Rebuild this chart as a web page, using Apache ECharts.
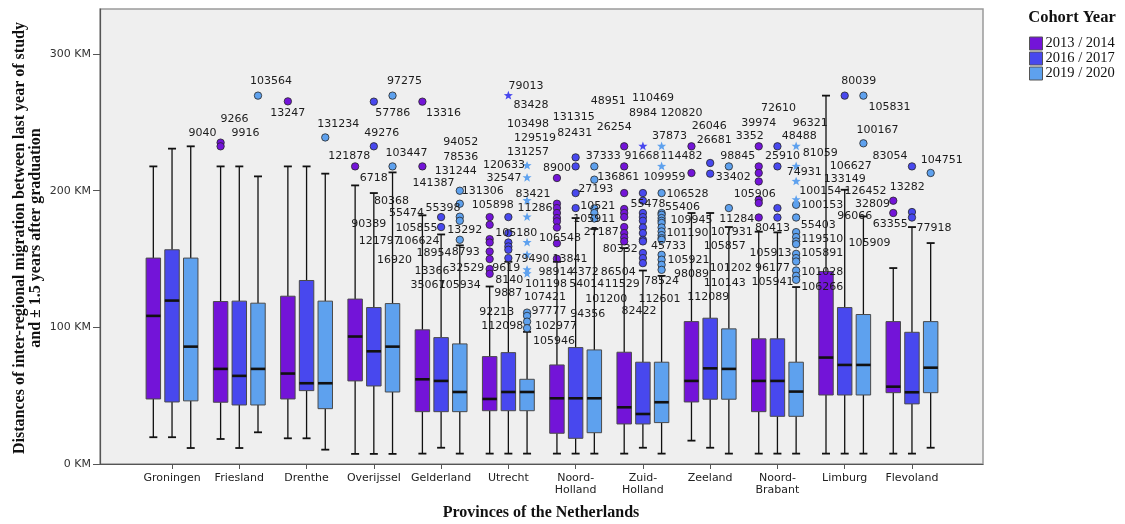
<!DOCTYPE html>
<html>
<head>
<meta charset="utf-8">
<script src="https://cdn.jsdelivr.net/npm/echarts@6/dist/echarts.min.js"></script>
<style>
  html, body { margin: 0; padding: 0; background: #ffffff; }
  #chart { width: 1125px; height: 524px; }
</style>
</head>
<body>
<div id="chart"></div>
<script>
const provinces = ['Groningen', 'Friesland', 'Drenthe', 'Overijssel', 'Gelderland', 'Utrecht',
  'Noord-Holland', 'Zuid-Holland', 'Zeeland', 'Noord-Brabant', 'Limburg', 'Flevoland']
const cohorts = ['2013 / 2014', '2016 / 2017', '2019 / 2020']
const yTicks = [0, 100, 200, 300]

// [lower whisker, Q1, median, Q3, upper whisker] in km, one row per province
const box2013 = [
  [19.6, 47.6, 108.4, 150.7, 217.8],
  [18.3, 45.2, 69.6, 118.9, 217.8],
  [18.8, 47.6, 66.2, 122.8, 217.8],
  [7.4, 60.8, 93.3, 120.7, 203.9],
  [7.6, 38.3, 62.0, 98.2, 182.0],
  [7.6, 39.0, 47.6, 78.6, 129.9],
  [7.6, 22.5, 48.1, 72.5, 148.0],
  [7.6, 29.3, 41.5, 81.8, 158.0],
  [17.1, 45.4, 60.8, 104.2, 183.7],
  [7.6, 38.3, 60.8, 91.6, 170.0],
  [7.6, 50.5, 77.9, 140.9, 269.6],
  [7.6, 52.2, 56.6, 104.2, 143.4],
]
const box2016 = [
  [19.6, 45.4, 119.6, 156.8, 230.8],
  [11.7, 43.2, 64.5, 119.2, 217.8],
  [18.8, 53.7, 59.1, 134.3, 217.8],
  [7.4, 57.1, 82.5, 114.5, 198.3],
  [11.9, 38.3, 60.8, 92.5, 168.0],
  [7.6, 39.0, 52.7, 81.5, 148.0],
  [7.6, 18.8, 48.1, 85.2, 180.0],
  [11.9, 29.3, 36.6, 74.5, 141.6],
  [11.9, 47.4, 70.0, 106.7, 183.7],
  [7.6, 34.9, 60.8, 91.6, 169.5],
  [7.6, 50.5, 72.5, 114.5, 200.7],
  [7.6, 44.0, 52.5, 96.4, 173.4],
]
const box2019 = [
  [11.7, 46.2, 85.9, 150.7, 232.5],
  [23.2, 43.2, 69.6, 117.7, 210.5],
  [10.5, 40.5, 59.1, 119.2, 212.5],
  [7.4, 52.7, 85.9, 117.4, 213.4],
  [7.6, 38.3, 52.7, 87.9, 160.0],
  [7.6, 39.0, 52.7, 62.0, 96.7],
  [7.6, 22.9, 48.1, 83.5, 172.0],
  [7.6, 30.3, 45.2, 74.5, 137.7],
  [7.6, 47.4, 69.6, 98.9, 173.4],
  [7.6, 34.9, 53.0, 74.5, 129.5],
  [7.6, 50.5, 72.5, 109.4, 181.2],
  [11.9, 52.2, 70.5, 104.2, 161.7],
]

// outliers (circles), [province, km]
const dots2013 = [
  ['Friesland', 235.2], ['Friesland', 232.5], ['Drenthe', 265.4], ['Overijssel', 217.8],
  ['Gelderland', 265.2], ['Gelderland', 217.8],
  ['Utrecht', 180.7], ['Utrecht', 175.1], ['Utrecht', 164.6], ['Utrecht', 162.1], ['Utrecht', 155.5],
  ['Utrecht', 150.0], ['Utrecht', 142.7], ['Utrecht', 139.2],
  ['Noord-Holland', 209.3], ['Noord-Holland', 190.5], ['Noord-Holland', 187.3], ['Noord-Holland', 183.7],
  ['Noord-Holland', 180.0], ['Noord-Holland', 177.6], ['Noord-Holland', 173.1], ['Noord-Holland', 161.5],
  ['Noord-Holland', 150.2],
  ['Zuid-Holland', 232.5], ['Zuid-Holland', 217.8], ['Zuid-Holland', 198.3], ['Zuid-Holland', 186.6],
  ['Zuid-Holland', 183.7], ['Zuid-Holland', 180.7], ['Zuid-Holland', 173.4], ['Zuid-Holland', 169.0],
  ['Zuid-Holland', 165.8], ['Zuid-Holland', 162.9],
  ['Zeeland', 232.5], ['Zeeland', 213.0],
  ['Noord-Brabant', 232.5], ['Noord-Brabant', 217.8], ['Noord-Brabant', 213.0], ['Noord-Brabant', 206.8],
  ['Noord-Brabant', 193.4], ['Noord-Brabant', 191.0], ['Noord-Brabant', 180.4],
  ['Flevoland', 192.7], ['Flevoland', 183.7],
]
const dots2016 = [
  ['Overijssel', 265.2], ['Overijssel', 232.5], ['Gelderland', 180.7], ['Gelderland', 173.4],
  ['Utrecht', 180.7], ['Utrecht', 169.0], ['Utrecht', 162.1], ['Utrecht', 159.2], ['Utrecht', 156.8], ['Utrecht', 150.7],
  ['Noord-Holland', 224.4], ['Noord-Holland', 217.8], ['Noord-Holland', 198.3], ['Noord-Holland', 187.3],
  ['Zuid-Holland', 198.3], ['Zuid-Holland', 192.7], ['Zuid-Holland', 183.7], ['Zuid-Holland', 180.7],
  ['Zuid-Holland', 178.0], ['Zuid-Holland', 173.1], ['Zuid-Holland', 169.0], ['Zuid-Holland', 164.1],
  ['Zuid-Holland', 162.9], ['Zuid-Holland', 154.4], ['Zuid-Holland', 150.7], ['Zuid-Holland', 147.0],
  ['Zeeland', 220.3], ['Zeeland', 212.5],
  ['Noord-Brabant', 232.5], ['Noord-Brabant', 217.8], ['Noord-Brabant', 187.3], ['Noord-Brabant', 180.4],
  ['Limburg', 269.6],
  ['Flevoland', 217.8], ['Flevoland', 184.4], ['Flevoland', 180.4],
]
const dots2019 = [
  ['Friesland', 269.6], ['Drenthe', 239.0], ['Overijssel', 269.6], ['Overijssel', 217.8],
  ['Gelderland', 200.0], ['Gelderland', 190.5], ['Gelderland', 181.0], ['Gelderland', 178.0], ['Gelderland', 164.1],
  ['Utrecht', 110.8], ['Utrecht', 108.4], ['Utrecht', 104.2], ['Utrecht', 99.4],
  ['Noord-Holland', 217.8], ['Noord-Holland', 208.1], ['Noord-Holland', 187.0], ['Noord-Holland', 183.7],
  ['Noord-Holland', 179.7],
  ['Zuid-Holland', 198.3], ['Zuid-Holland', 183.7], ['Zuid-Holland', 182.4], ['Zuid-Holland', 180.0],
  ['Zuid-Holland', 178.0], ['Zuid-Holland', 176.4], ['Zuid-Holland', 173.1], ['Zuid-Holland', 170.2],
  ['Zuid-Holland', 167.5], ['Zuid-Holland', 165.3], ['Zuid-Holland', 164.1], ['Zuid-Holland', 153.1],
  ['Zuid-Holland', 149.5], ['Zuid-Holland', 145.8], ['Zuid-Holland', 142.1],
  ['Zeeland', 217.8], ['Zeeland', 187.3],
  ['Noord-Brabant', 189.7], ['Noord-Brabant', 180.4], ['Noord-Brabant', 169.7], ['Noord-Brabant', 166.1],
  ['Noord-Brabant', 162.9], ['Noord-Brabant', 160.9], ['Noord-Brabant', 153.8], ['Noord-Brabant', 150.7],
  ['Noord-Brabant', 148.2], ['Noord-Brabant', 141.6], ['Noord-Brabant', 137.7], ['Noord-Brabant', 134.8],
  ['Limburg', 269.6], ['Limburg', 234.7],
  ['Flevoland', 213.0],
]

// extreme values (stars), [province, km]
const stars2016 = [['Utrecht', 269.6], ['Zuid-Holland', 232.5]]
const stars2019 = [
  ['Utrecht', 218.3], ['Utrecht', 209.5], ['Utrecht', 192.7], ['Utrecht', 180.7], ['Utrecht', 162.1],
  ['Utrecht', 153.1], ['Utrecht', 142.1], ['Utrecht', 139.2],
  ['Zuid-Holland', 232.5], ['Zuid-Holland', 217.8],
  ['Noord-Brabant', 232.5], ['Noord-Brabant', 217.8], ['Noord-Brabant', 206.8], ['Noord-Brabant', 193.4],
]

// case labels, [province, km, case id]
const labels2013 = [
  ['Friesland', 252.7, '9266'], ['Friesland', 241.8, '9040'], ['Friesland', 241.8, '9916'],
  ['Drenthe', 257.1, '13247'], ['Overijssel', 225.6, '121878'],
  ['Gelderland', 257.1, '13316'], ['Gelderland', 205.9, '141387'], ['Gelderland', 183.9, '55474'],
  ['Gelderland', 172.9, '105855'], ['Gelderland', 162.9, '106624'],
  ['Utrecht', 189.7, '105898'], ['Utrecht', 111.1, '92213'],
  ['Noord-Holland', 216.8, '8900'], ['Noord-Holland', 165.6, '106548'], ['Noord-Holland', 150.2, '13841'],
  ['Noord-Holland', 140.4, '98914'], ['Noord-Holland', 131.9, '101198'],
  ['Zuid-Holland', 157.5, '80332'], ['Zuid-Holland', 140.4, '86504'], ['Zuid-Holland', 131.9, '11529'],
  ['Zeeland', 178.8, '109945'], ['Zeeland', 139.2, '98089'],
  ['Noord-Brabant', 249.8, '39974'], ['Noord-Brabant', 239.6, '3352'], ['Noord-Brabant', 197.6, '105906'],
  ['Flevoland', 202.4, '13282'], ['Flevoland', 175.8, '63355'],
]
const labels2016 = [
  ['Overijssel', 209.5, '6718'], ['Overijssel', 241.8, '49276'], ['Overijssel', 257.1, '57786'],
  ['Overijssel', 175.6, '90389'], ['Overijssel', 162.9, '121797'],
  ['Gelderland', 187.5, '55398'], ['Gelderland', 154.6, '18954'], ['Gelderland', 140.9, '13366'],
  ['Gelderland', 131.1, '35067'],
  ['Utrecht', 169.2, '105180'], ['Utrecht', 143.4, '9619'], ['Utrecht', 134.8, '8140'], ['Utrecht', 125.1, '9887'],
  ['Utrecht', 100.6, '112098'],
  ['Noord-Holland', 253.5, '131315'], ['Noord-Holland', 242.5, '82431'], ['Noord-Holland', 201.2, '27193'],
  ['Noord-Holland', 188.5, '10521'], ['Noord-Holland', 140.4, '4372'], ['Noord-Holland', 131.9, '54014'],
  ['Noord-Holland', 109.9, '94356'],
  ['Zuid-Holland', 267.4, '110469'], ['Zuid-Holland', 257.1, '8984'], ['Zuid-Holland', 225.6, '91668'],
  ['Zuid-Holland', 190.5, '55478'], ['Zuid-Holland', 111.6, '82422'],
  ['Zeeland', 247.1, '26046'], ['Zeeland', 236.8, '26681'], ['Zeeland', 210.0, '33402'], ['Zeeland', 121.8, '112089'],
  ['Noord-Brabant', 260.3, '72610'], ['Noord-Brabant', 225.6, '25910'], ['Noord-Brabant', 172.7, '80413'],
  ['Noord-Brabant', 154.4, '105913'], ['Noord-Brabant', 143.4, '96177'], ['Noord-Brabant', 133.1, '105941'],
  ['Limburg', 279.9, '80039'], ['Limburg', 218.3, '106627'], ['Limburg', 208.8, '133149'], ['Limburg', 181.7, '96066'],
  ['Flevoland', 225.6, '83054'], ['Flevoland', 172.7, '77918'],
]
const labels2019 = [
  ['Friesland', 279.9, '103564'], ['Drenthe', 248.4, '131234'],
  ['Overijssel', 279.9, '97275'], ['Overijssel', 227.8, '103447'], ['Overijssel', 192.7, '80368'],
  ['Overijssel', 148.9, '16920'],
  ['Gelderland', 235.2, '94052'], ['Gelderland', 224.9, '78536'], ['Gelderland', 214.7, '131244'],
  ['Gelderland', 200.0, '131306'], ['Gelderland', 171.4, '13292'], ['Gelderland', 155.3, '8793'],
  ['Gelderland', 143.6, '32529'], ['Gelderland', 131.1, '105934'],
  ['Utrecht', 276.9, '79013'], ['Utrecht', 262.3, '83428'], ['Utrecht', 248.4, '103498'], ['Utrecht', 238.8, '129519'],
  ['Utrecht', 228.6, '131257'], ['Utrecht', 219.0, '120633'], ['Utrecht', 209.5, '32547'], ['Utrecht', 197.8, '83421'],
  ['Utrecht', 187.0, '11286'], ['Utrecht', 150.2, '79490'], ['Utrecht', 121.8, '107421'], ['Utrecht', 111.6, '97777'],
  ['Utrecht', 100.6, '102977'], ['Utrecht', 90.1, '105946'],
  ['Noord-Holland', 265.2, '48951'], ['Noord-Holland', 246.9, '26254'], ['Noord-Holland', 225.6, '37333'],
  ['Noord-Holland', 210.0, '136861'], ['Noord-Holland', 179.3, '105911'], ['Noord-Holland', 169.5, '27187'],
  ['Noord-Holland', 120.9, '101200'],
  ['Zuid-Holland', 257.1, '120820'], ['Zuid-Holland', 240.3, '37873'], ['Zuid-Holland', 225.6, '114482'],
  ['Zuid-Holland', 210.0, '109959'], ['Zuid-Holland', 197.8, '106528'], ['Zuid-Holland', 188.1, '55406'],
  ['Zuid-Holland', 169.0, '101190'], ['Zuid-Holland', 159.2, '45733'], ['Zuid-Holland', 149.5, '105921'],
  ['Zuid-Holland', 133.6, '78524'], ['Zuid-Holland', 120.9, '112601'],
  ['Zeeland', 225.6, '98845'], ['Zeeland', 179.5, '11284'], ['Zeeland', 170.0, '107931'], ['Zeeland', 159.2, '105857'],
  ['Zeeland', 143.4, '101202'], ['Zeeland', 132.4, '110143'],
  ['Noord-Brabant', 249.8, '96321'], ['Noord-Brabant', 239.6, '48488'], ['Noord-Brabant', 227.8, '81059'],
  ['Noord-Brabant', 213.9, '74931'], ['Noord-Brabant', 200.0, '100154'], ['Noord-Brabant', 189.7, '100153'],
  ['Noord-Brabant', 175.1, '55403'], ['Noord-Brabant', 164.8, '119510'], ['Noord-Brabant', 154.4, '105891'],
  ['Noord-Brabant', 140.4, '101028'], ['Noord-Brabant', 129.5, '106266'],
  ['Limburg', 261.5, '105831'], ['Limburg', 244.0, '100167'], ['Limburg', 200.0, '126452'],
  ['Limburg', 190.3, '32809'], ['Limburg', 161.7, '105909'],
  ['Flevoland', 222.7, '104751'],
]

// horizontal nudge of each case label (px), as SPSS placed them
const labelShift = {
  '103564': 13, '9266': 14, '9040': -18, '9916': 25, '13247': 0, '131234': 13, '121878': -6, '6718': 0,
  '49276': 8, '57786': 19, '97275': 12, '103447': 14, '80368': -1, '90389': -5, '121797': 6, '16920': 2,
  '13316': 21, '141387': 11, '55474': -16, '105855': -6, '106624': -4, '55398': 2, '18954': -7, '13366': -9,
  '35067': -13, '94052': 1, '78536': 1, '131244': -4, '131306': 23, '13292': 5, '8793': 6, '32529': 7, '105934': 0,
  '105898': 3, '92213': 7, '105180': 8, '9619': -2, '8140': 1, '9887': 0, '112098': -6, '79013': -1, '83428': 4,
  '103498': 1, '129519': 8, '131257': 1, '120633': -23, '32547': -23, '83421': 6, '11286': 8, '79490': 5,
  '107421': 18, '97777': 22, '102977': 29, '105946': 27,
  '8900': 0, '106548': 3, '13841': 13, '98914': -1, '101198': -11, '131315': -2, '82431': -1, '27193': 20,
  '10521': 22, '4372': 9, '54014': 11, '94356': 12, '48951': 14, '26254': 20, '37333': 9, '136861': 24,
  '105911': 0, '27187': 7, '101200': 12,
  '80332': -4, '86504': -6, '11529': -2, '110469': 10, '8984': 0, '91668': -1, '55478': 5, '82422': -4,
  '120820': 20, '37873': 8, '114482': 20, '109959': 3, '106528': 26, '55406': 21, '101190': 26, '45733': 7,
  '105921': 27, '78524': 0, '112601': -2,
  '109945': 0, '98089': 0, '26046': -1, '26681': 4, '33402': 23, '112089': -2, '98845': 9, '11284': 8,
  '107931': 3, '105857': -4, '101202': 2, '110143': -4,
  '39974': 0, '3352': -9, '105906': -4, '72610': 1, '25910': 5, '80413': -5, '105913': -7, '96177': -5,
  '105941': -5, '96321': 14, '48488': 3, '81059': 24, '74931': 8, '100154': 24, '100153': 26, '55403': 22,
  '119510': 26, '105891': 26, '101028': 26, '106266': 26,
  '80039': 14, '105831': 26, '100167': 14, '106627': 6, '133149': 0, '96066': 10, '126452': 2, '32809': 9,
  '105909': 6, '13282': 14, '63355': -3, '83054': -22, '77918': 22, '104751': 11,
}

const colors = ['#7314d8', '#4848ee', '#5ea1ee']
const labelFont = '11px "DejaVu Sans"'
const STEP = 0.278 // distance between cohort boxes, share of band
const BOX = 0.215 // box width, share of band

function columnX(api, cat, k) {
  const band = api.size([1, 0])[0]
  return api.coord([cat, 0])[0] + (k - 1) * STEP * band
}

function boxRenderer(k) {
  return (params, api) => {
    const cat = api.value(0)
    const cx = columnX(api, cat, k)
    const w = BOX * api.size([1, 0])[0]
    const y = (dim) => api.coord([cat, api.value(dim)])[1]
    const lo = y(1), q1 = y(2), md = y(3), q3 = y(4), hi = y(5)
    const line = (x1, y1, x2, y2, lw) => ({
      type: 'line',
      shape: { x1, y1, x2, y2 },
      style: { stroke: '#111111', lineWidth: lw },
    })
    return {
      type: 'group',
      children: [
        line(cx, hi, cx, q3, 1.3),
        line(cx, q1, cx, lo, 1.3),
        line(cx - 4, hi, cx + 4, hi, 1.8),
        line(cx - 4, lo, cx + 4, lo, 1.8),
        {
          type: 'rect',
          shape: { x: cx - w / 2, y: q3, width: w, height: q1 - q3 },
          style: { fill: colors[k], stroke: '#4a4a4a', lineWidth: 1 },
        },
        line(cx - w / 2, md, cx + w / 2, md, 2.6),
      ],
    }
  }
}

function dotRenderer(k) {
  return (params, api) => {
    const cat = api.value(0)
    return {
      type: 'circle',
      shape: { cx: columnX(api, cat, k), cy: api.coord([cat, api.value(1)])[1], r: 3.7 },
      style: { fill: colors[k], stroke: '#262626', lineWidth: 0.8 },
    }
  }
}

function starRenderer(k) {
  return (params, api) => {
    const cat = api.value(0)
    const cx = columnX(api, cat, k)
    const cy = api.coord([cat, api.value(1)])[1]
    const points = []
    for (let i = 0; i < 10; i++) {
      const r = i % 2 === 0 ? 4.8 : 2
      const a = -Math.PI / 2 + (i * Math.PI) / 5
      points.push([cx + r * Math.cos(a), cy + r * Math.sin(a)])
    }
    return { type: 'polygon', shape: { points }, style: { fill: colors[k] } }
  }
}

function labelRenderer(k, list) {
  return (params, api) => {
    const cat = api.value(0)
    const id = list[params.dataIndex][2]
    return {
      type: 'text',
      x: columnX(api, cat, k) + (labelShift[id] || 0),
      y: api.coord([cat, api.value(1)])[1],
      style: {
        text: id,
        font: labelFont,
        fill: '#1c1c1c',
        textAlign: 'center',
        textVerticalAlign: 'middle',
      },
    }
  }
}

const idx = (name) => provinces.indexOf(name)
const boxes = [box2013, box2016, box2019]
const dots = [dots2013, dots2016, dots2019]
const stars = [null, stars2016, stars2019]
const labels = [labels2013, labels2016, labels2019]

const series = []
cohorts.forEach((name, k) => {
  series.push({
    type: 'custom',
    name,
    xAxisIndex: 1,
    yAxisIndex: 1,
    z: 2,
    itemStyle: { color: colors[k] },
    encode: { x: 0, y: [1, 2, 3, 4, 5] },
    data: boxes[k].map((row, i) => [i, ...row]),
    renderItem: boxRenderer(k),
  })
  series.push({
    type: 'custom',
    name,
    xAxisIndex: 1,
    yAxisIndex: 1,
    z: 3,
    itemStyle: { color: colors[k] },
    encode: { x: 0, y: 1 },
    data: dots[k].map(([p, v]) => [idx(p), v]),
    renderItem: dotRenderer(k),
  })
  if (stars[k]) {
    series.push({
      type: 'custom',
      name,
      xAxisIndex: 1,
      yAxisIndex: 1,
      z: 3,
      itemStyle: { color: colors[k] },
      encode: { x: 0, y: 1 },
      data: stars[k].map(([p, v]) => [idx(p), v]),
      renderItem: starRenderer(k),
    })
  }
  series.push({
    type: 'custom',
    name: 'case ' + name,
    xAxisIndex: 1,
    yAxisIndex: 1,
    z: 4,
    encode: { x: 0, y: 1 },
    data: labels[k].map(([p, v]) => [idx(p), v]),
    renderItem: labelRenderer(k, labels[k]),
  })
})

const chart = echarts.init(document.getElementById('chart'), null, { renderer: 'canvas' })
chart.setOption({
  animation: false,
  grid: [
    { left: 100, right: 142, top: 9, bottom: 60, show: true, backgroundColor: '#efefef', borderColor: '#9a9a9a', borderWidth: 1.5 },
    { left: 138.4, right: 179.4, top: 9, bottom: 60 },
  ],
  xAxis: [
    {
      gridIndex: 0,
      type: 'value',
      min: 0,
      max: 1,
      axisLine: { show: true, lineStyle: { color: '#555555', width: 1.2 } },
      axisTick: { show: false },
      axisLabel: { show: false },
      splitLine: { show: false },
    },
    {
      gridIndex: 1,
      type: 'category',
      data: provinces,
      axisLine: { show: false },
      axisTick: { show: true, alignWithLabel: true, length: 5, lineStyle: { color: '#555555' } },
      axisLabel: {
        interval: 0,
        margin: 8,
        formatter: (s) => s.replace('-', '-\n'),
        fontFamily: 'DejaVu Sans',
        fontSize: 11,
        lineHeight: 12,
        color: '#222222',
      },
      splitLine: { show: false },
    },
  ],
  yAxis: [
    {
      gridIndex: 0,
      type: 'value',
      min: 0,
      max: 333,
      axisLine: { show: true, lineStyle: { color: '#555555', width: 1.2 } },
      axisTick: { show: true, customValues: yTicks, length: 7, lineStyle: { color: '#555555' } },
      axisLabel: {
        customValues: yTicks,
        formatter: '{value} KM',
        margin: 9,
        fontFamily: 'DejaVu Sans',
        fontSize: 11,
        color: '#333333',
      },
      splitLine: { show: false },
    },
    { gridIndex: 1, type: 'value', min: 0, max: 333, show: false },
  ],
  legend: {
    orient: 'vertical',
    left: 1029,
    top: 36,
    padding: 0,
    itemWidth: 13,
    itemHeight: 13,
    itemGap: 0,
    icon: 'rect',
    selectedMode: false,
    data: cohorts.map((name, k) => ({
      name,
      itemStyle: { color: colors[k], borderColor: '#555555', borderWidth: 1 },
    })),
    textStyle: { fontFamily: 'Liberation Serif', fontSize: 14.5, color: '#111111', lineHeight: 13, padding: [0, 0, 0, -2] },
  },
  graphic: [
    {
      type: 'text',
      x: 1072,
      y: 18,
      style: { text: 'Cohort Year', font: 'bold 16.5px "Liberation Serif"', fill: '#111111', textAlign: 'center', textVerticalAlign: 'middle' },
    },
    {
      type: 'text',
      x: 20,
      y: 238,
      rotation: Math.PI / 2,
      style: {
        text: 'Distances of inter-regional migration between last year of study',
        font: 'bold 16px "Liberation Serif"',
        fill: '#111111',
        textAlign: 'center',
        textVerticalAlign: 'middle',
      },
    },
    {
      type: 'text',
      x: 36,
      y: 238,
      rotation: Math.PI / 2,
      style: {
        text: 'and ± 1.5 years after graduation',
        font: 'bold 16px "Liberation Serif"',
        fill: '#111111',
        textAlign: 'center',
        textVerticalAlign: 'middle',
      },
    },
    {
      type: 'text',
      x: 541,
      y: 513,
      style: { text: 'Provinces of the Netherlands', font: 'bold 16px "Liberation Serif"', fill: '#111111', textAlign: 'center', textVerticalAlign: 'middle' },
    },
  ],
  series,
})
</script>
</body>
</html>
